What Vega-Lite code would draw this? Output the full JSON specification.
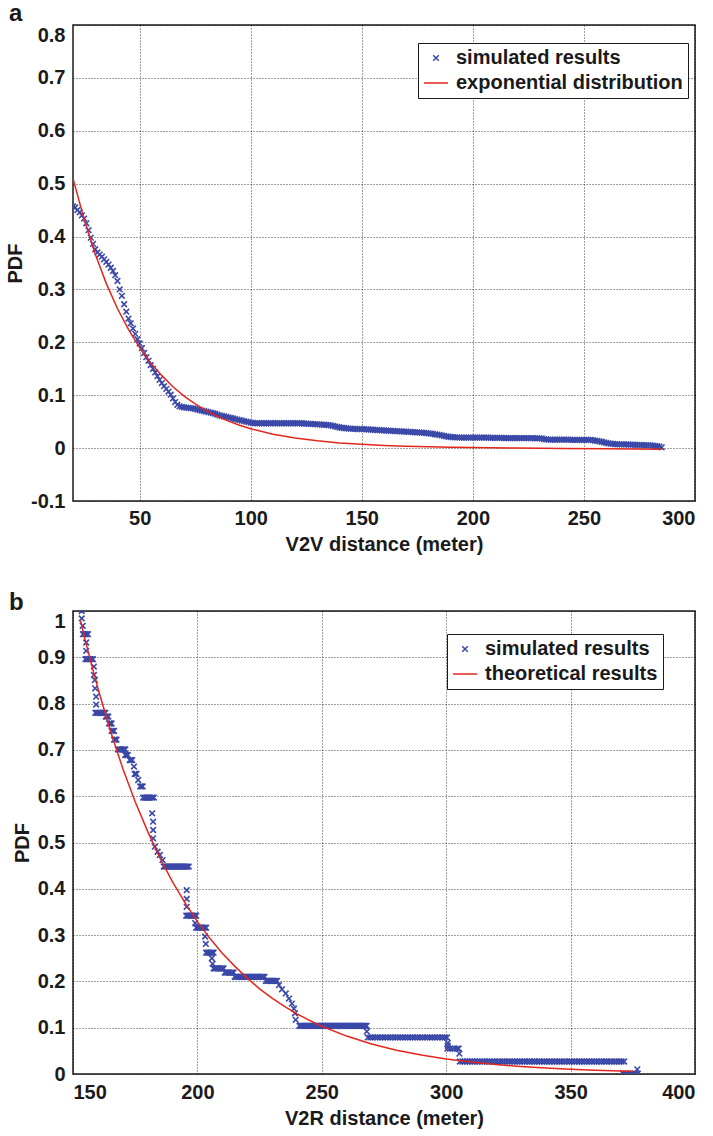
{
  "$schema": "https://vega.github.io/schema/vega-lite/v6.json",
  "background": "white",
  "padding": {"left": 4, "top": 1, "right": 2, "bottom": 2},
  "datasets": {
    "simA": [
      {"x":20,"y":0.457},{"x":21,"y":0.455},{"x":22,"y":0.45},{"x":23,"y":0.446},{"x":24,"y":0.44},{"x":25,"y":0.434},{"x":26,"y":0.425},{"x":27,"y":0.412},{"x":28,"y":0.398},{"x":29,"y":0.386},
      {"x":30,"y":0.376},{"x":31,"y":0.37},{"x":32,"y":0.366},{"x":33,"y":0.362},{"x":34,"y":0.357},{"x":35,"y":0.352},{"x":36,"y":0.347},{"x":37,"y":0.341},{"x":38,"y":0.335},{"x":39,"y":0.327},
      {"x":40,"y":0.316},{"x":41,"y":0.3},{"x":42,"y":0.288},{"x":43,"y":0.272},{"x":44,"y":0.258},{"x":45,"y":0.245},{"x":46,"y":0.236},{"x":47,"y":0.226},{"x":48,"y":0.216},{"x":49,"y":0.206},
      {"x":50,"y":0.198},{"x":51,"y":0.189},{"x":52,"y":0.18},{"x":53,"y":0.172},{"x":54,"y":0.165},{"x":55,"y":0.157},{"x":56,"y":0.15},{"x":57,"y":0.143},{"x":58,"y":0.136},{"x":59,"y":0.129},
      {"x":60,"y":0.123},{"x":61,"y":0.117},{"x":62,"y":0.112},{"x":63,"y":0.107},{"x":64,"y":0.101},{"x":65,"y":0.094},{"x":66,"y":0.087},{"x":67,"y":0.082},{"x":68,"y":0.079},{"x":69,"y":0.078},
      {"x":70,"y":0.077},{"x":71,"y":0.0765},{"x":72,"y":0.076},{"x":73,"y":0.0755},{"x":74,"y":0.075},{"x":75,"y":0.074},{"x":76,"y":0.073},{"x":77,"y":0.072},{"x":78,"y":0.071},{"x":79,"y":0.07},
      {"x":80,"y":0.069},{"x":81,"y":0.068},{"x":82,"y":0.067},{"x":83,"y":0.066},{"x":84,"y":0.065},{"x":85,"y":0.0635},{"x":86,"y":0.062},{"x":87,"y":0.061},{"x":88,"y":0.06},{"x":89,"y":0.059},
      {"x":90,"y":0.058},{"x":91,"y":0.057},{"x":92,"y":0.056},{"x":93,"y":0.055},{"x":94,"y":0.054},{"x":95,"y":0.053},{"x":96,"y":0.052},{"x":97,"y":0.051},{"x":98,"y":0.05},{"x":99,"y":0.049},
      {"x":100,"y":0.048},{"x":101,"y":0.0475},{"x":102,"y":0.047},{"x":103,"y":0.047},{"x":104,"y":0.047},{"x":105,"y":0.047},{"x":106,"y":0.047},{"x":107,"y":0.047},{"x":108,"y":0.047},{"x":109,"y":0.047},
      {"x":110,"y":0.047},{"x":111,"y":0.047},{"x":112,"y":0.047},{"x":113,"y":0.047},{"x":114,"y":0.047},{"x":115,"y":0.047},{"x":116,"y":0.047},{"x":117,"y":0.047},{"x":118,"y":0.047},{"x":119,"y":0.047},
      {"x":120,"y":0.047},{"x":121,"y":0.047},{"x":122,"y":0.047},{"x":123,"y":0.047},{"x":124,"y":0.0465},{"x":125,"y":0.0462},{"x":126,"y":0.046},{"x":127,"y":0.0458},{"x":128,"y":0.0455},{"x":129,"y":0.0452},
      {"x":130,"y":0.045},{"x":131,"y":0.0447},{"x":132,"y":0.0445},{"x":133,"y":0.0442},{"x":134,"y":0.044},{"x":135,"y":0.0435},{"x":136,"y":0.043},{"x":137,"y":0.042},{"x":138,"y":0.041},{"x":139,"y":0.04},
      {"x":140,"y":0.039},{"x":141,"y":0.0385},{"x":142,"y":0.038},{"x":143,"y":0.0375},{"x":144,"y":0.037},{"x":145,"y":0.0367},{"x":146,"y":0.0365},{"x":147,"y":0.0362},{"x":148,"y":0.036},{"x":149,"y":0.036},
      {"x":150,"y":0.036},{"x":151,"y":0.0357},{"x":152,"y":0.0355},{"x":153,"y":0.0352},{"x":154,"y":0.035},{"x":155,"y":0.0347},{"x":156,"y":0.0345},{"x":157,"y":0.0342},{"x":158,"y":0.034},{"x":159,"y":0.0337},
      {"x":160,"y":0.0335},{"x":161,"y":0.0332},{"x":162,"y":0.033},{"x":163,"y":0.0327},{"x":164,"y":0.0325},{"x":165,"y":0.0322},{"x":166,"y":0.032},{"x":167,"y":0.0317},{"x":168,"y":0.0315},{"x":169,"y":0.0312},
      {"x":170,"y":0.031},{"x":171,"y":0.0307},{"x":172,"y":0.0305},{"x":173,"y":0.0302},{"x":174,"y":0.03},{"x":175,"y":0.0297},{"x":176,"y":0.0295},{"x":177,"y":0.0292},{"x":178,"y":0.029},{"x":179,"y":0.0285},
      {"x":180,"y":0.028},{"x":181,"y":0.0275},{"x":182,"y":0.027},{"x":183,"y":0.026},{"x":184,"y":0.0255},{"x":185,"y":0.025},{"x":186,"y":0.024},{"x":187,"y":0.023},{"x":188,"y":0.022},{"x":189,"y":0.0215},
      {"x":190,"y":0.021},{"x":191,"y":0.0207},{"x":192,"y":0.0205},{"x":193,"y":0.0202},{"x":194,"y":0.02},{"x":195,"y":0.02},{"x":196,"y":0.02},{"x":197,"y":0.02},{"x":198,"y":0.02},{"x":199,"y":0.02},
      {"x":200,"y":0.02},{"x":201,"y":0.02},{"x":202,"y":0.02},{"x":203,"y":0.02},{"x":204,"y":0.02},{"x":205,"y":0.02},{"x":206,"y":0.02},{"x":207,"y":0.02},{"x":208,"y":0.0195},{"x":209,"y":0.0195},
      {"x":210,"y":0.0195},{"x":211,"y":0.0195},{"x":212,"y":0.0195},{"x":213,"y":0.0195},{"x":214,"y":0.019},{"x":215,"y":0.019},{"x":216,"y":0.019},{"x":217,"y":0.019},{"x":218,"y":0.019},{"x":219,"y":0.019},
      {"x":220,"y":0.019},{"x":221,"y":0.019},{"x":222,"y":0.019},{"x":223,"y":0.019},{"x":224,"y":0.019},{"x":225,"y":0.019},{"x":226,"y":0.019},{"x":227,"y":0.019},{"x":228,"y":0.0185},{"x":229,"y":0.0185},
      {"x":230,"y":0.0185},{"x":231,"y":0.0185},{"x":232,"y":0.017},{"x":233,"y":0.0165},{"x":234,"y":0.016},{"x":235,"y":0.016},{"x":236,"y":0.016},{"x":237,"y":0.016},{"x":238,"y":0.016},{"x":239,"y":0.016},
      {"x":240,"y":0.016},{"x":241,"y":0.016},{"x":242,"y":0.016},{"x":243,"y":0.016},{"x":244,"y":0.0155},{"x":245,"y":0.0155},{"x":246,"y":0.0155},{"x":247,"y":0.0155},{"x":248,"y":0.0155},{"x":249,"y":0.0155},
      {"x":250,"y":0.0155},{"x":251,"y":0.0155},{"x":252,"y":0.0155},{"x":253,"y":0.0155},{"x":254,"y":0.015},{"x":255,"y":0.014},{"x":256,"y":0.0135},{"x":257,"y":0.0128},{"x":258,"y":0.012},{"x":259,"y":0.011},
      {"x":260,"y":0.01},{"x":261,"y":0.009},{"x":262,"y":0.0085},{"x":263,"y":0.008},{"x":264,"y":0.0075},{"x":265,"y":0.0073},{"x":266,"y":0.0072},{"x":267,"y":0.0071},{"x":268,"y":0.007},{"x":269,"y":0.0069},
      {"x":270,"y":0.0068},{"x":271,"y":0.0066},{"x":272,"y":0.0065},{"x":273,"y":0.0062},{"x":274,"y":0.006},{"x":275,"y":0.0059},{"x":276,"y":0.0058},{"x":277,"y":0.0056},{"x":278,"y":0.0055},{"x":279,"y":0.0052},
      {"x":280,"y":0.005},{"x":281,"y":0.0045},{"x":282,"y":0.004},{"x":283,"y":0.0035},{"x":284,"y":0.003},{"x":285,"y":0.0015}
    ],
    "expA": [
      {"x":20,"y":0.51},{"x":25,"y":0.433},{"x":30,"y":0.367},{"x":35,"y":0.311},{"x":40,"y":0.264},{"x":45,"y":0.224},{"x":50,"y":0.19},{"x":55,"y":0.161},{"x":60,"y":0.137},{"x":65,"y":0.116},
      {"x":70,"y":0.0984},{"x":75,"y":0.0835},{"x":80,"y":0.0708},{"x":85,"y":0.0601},{"x":90,"y":0.051},{"x":95,"y":0.0433},{"x":100,"y":0.0367},{"x":110,"y":0.0264},{"x":120,"y":0.019},{"x":130,"y":0.0137},
      {"x":140,"y":0.0098},{"x":150,"y":0.0071},{"x":160,"y":0.0051},{"x":170,"y":0.0037},{"x":180,"y":0.0026},{"x":190,"y":0.0015},{"x":200,"y":0.001},{"x":220,"y":0},{"x":240,"y":-0.0005},{"x":260,"y":-0.001},{"x":285,"y":-0.002}
    ],
    "simB": [
      {"x":153.5,"y":1},{"x":153.5,"y":0.984},{"x":153.9,"y":0.968},
      {"x":154,"y":0.95},{"x":154.5,"y":0.95},{"x":155,"y":0.95},{"x":155.5,"y":0.95},{"x":156,"y":0.95},
      {"x":155.3,"y":0.932},{"x":155.3,"y":0.914},
      {"x":155,"y":0.896},{"x":155.5,"y":0.896},{"x":156,"y":0.896},{"x":156.5,"y":0.896},{"x":157,"y":0.896},{"x":157.5,"y":0.896},{"x":158,"y":0.896},
      {"x":158.4,"y":0.88},{"x":158.4,"y":0.862},{"x":158.8,"y":0.851},{"x":158.9,"y":0.833},{"x":159.3,"y":0.815},{"x":159.3,"y":0.798},
      {"x":159,"y":0.78},{"x":159.5,"y":0.78},{"x":160,"y":0.78},{"x":160.5,"y":0.78},{"x":161,"y":0.78},{"x":161.5,"y":0.78},{"x":162,"y":0.78},{"x":162.5,"y":0.78},{"x":163,"y":0.78},
      {"x":163.2,"y":0.772},{"x":163.7,"y":0.772},{"x":164.2,"y":0.772},{"x":164.5,"y":0.757},{"x":165,"y":0.757},{"x":165.5,"y":0.757},{"x":165.5,"y":0.741},{"x":166,"y":0.741},{"x":166.5,"y":0.741},{"x":166.5,"y":0.722},{"x":167,"y":0.722},{"x":167.5,"y":0.722},
      {"x":168,"y":0.701},{"x":168.5,"y":0.701},{"x":169,"y":0.701},{"x":169.5,"y":0.701},{"x":170,"y":0.701},{"x":170.5,"y":0.701},{"x":171,"y":0.701},
      {"x":171,"y":0.689},{"x":171.5,"y":0.689},{"x":172,"y":0.689},{"x":172.8,"y":0.678},{"x":173.3,"y":0.678},{"x":173.8,"y":0.678},{"x":174.5,"y":0.664},{"x":174.8,"y":0.648},{"x":175.2,"y":0.648},{"x":175.5,"y":0.648},{"x":176.2,"y":0.635},{"x":177,"y":0.621},{"x":177.5,"y":0.621},{"x":178,"y":0.621},
      {"x":178.2,"y":0.597},{"x":178.7,"y":0.597},{"x":179.2,"y":0.597},{"x":179.7,"y":0.597},{"x":180.2,"y":0.597},{"x":180.7,"y":0.597},{"x":181.2,"y":0.597},{"x":181.8,"y":0.597},{"x":182.5,"y":0.597},
      {"x":181.8,"y":0.563},{"x":182.2,"y":0.545},{"x":182.2,"y":0.527},{"x":182.2,"y":0.509},{"x":182.9,"y":0.491},{"x":184,"y":0.48},{"x":184.9,"y":0.473},{"x":186,"y":0.462},
      {"x":186.5,"y":0.448},{"x":187,"y":0.448},{"x":187.5,"y":0.448},{"x":188,"y":0.448},{"x":188.5,"y":0.448},{"x":189,"y":0.448},{"x":189.5,"y":0.448},{"x":190,"y":0.448},{"x":190.5,"y":0.448},{"x":191,"y":0.448},{"x":191.5,"y":0.448},
      {"x":192,"y":0.448},{"x":192.5,"y":0.448},{"x":193,"y":0.448},{"x":193.5,"y":0.448},{"x":194,"y":0.448},{"x":194.5,"y":0.448},{"x":195,"y":0.448},{"x":195.5,"y":0.448},{"x":196,"y":0.448},{"x":196.5,"y":0.448},
      {"x":195.7,"y":0.397},{"x":195.7,"y":0.378},{"x":195.7,"y":0.361},
      {"x":195.5,"y":0.342},{"x":196,"y":0.342},{"x":196.5,"y":0.342},{"x":197,"y":0.342},{"x":197.5,"y":0.342},{"x":198,"y":0.342},{"x":198.5,"y":0.342},{"x":199,"y":0.342},{"x":199.5,"y":0.342},
      {"x":199.1,"y":0.326},
      {"x":199.5,"y":0.316},{"x":200,"y":0.316},{"x":200.5,"y":0.316},{"x":201,"y":0.316},{"x":201.5,"y":0.316},{"x":202,"y":0.316},{"x":202.5,"y":0.316},{"x":203,"y":0.316},{"x":203.5,"y":0.316},
      {"x":203.1,"y":0.297},{"x":203.4,"y":0.281},
      {"x":203.5,"y":0.262},{"x":204,"y":0.262},{"x":204.5,"y":0.262},{"x":205,"y":0.262},{"x":205.5,"y":0.262},{"x":206,"y":0.262},{"x":206.5,"y":0.262},
      {"x":205.8,"y":0.25},{"x":206.1,"y":0.238},
      {"x":206.5,"y":0.228},{"x":207,"y":0.228},{"x":207.5,"y":0.228},{"x":208,"y":0.228},{"x":208.5,"y":0.228},{"x":209,"y":0.228},{"x":209.5,"y":0.228},{"x":210,"y":0.228},{"x":210.5,"y":0.228},
      {"x":211,"y":0.219},{"x":211.5,"y":0.219},{"x":212,"y":0.219},{"x":212.5,"y":0.219},{"x":213,"y":0.219},{"x":213.5,"y":0.219},{"x":214,"y":0.219},{"x":214.5,"y":0.219},
      {"x":215,"y":0.21},{"x":215.5,"y":0.21},{"x":216,"y":0.21},{"x":216.5,"y":0.21},{"x":217,"y":0.21},{"x":217.5,"y":0.21},{"x":218,"y":0.21},{"x":218.5,"y":0.21},{"x":219,"y":0.21},{"x":219.5,"y":0.21},
      {"x":220,"y":0.21},{"x":220.5,"y":0.21},{"x":221,"y":0.21},{"x":221.5,"y":0.21},{"x":222,"y":0.21},{"x":222.5,"y":0.21},{"x":223,"y":0.21},{"x":223.5,"y":0.21},{"x":224,"y":0.21},{"x":224.5,"y":0.21},
      {"x":225,"y":0.21},{"x":225.5,"y":0.21},{"x":226,"y":0.21},{"x":226.5,"y":0.21},{"x":227,"y":0.21},
      {"x":227.5,"y":0.201},{"x":228,"y":0.201},{"x":228.5,"y":0.201},{"x":229,"y":0.201},{"x":229.5,"y":0.201},{"x":230,"y":0.201},{"x":230.5,"y":0.201},{"x":231,"y":0.201},{"x":231.5,"y":0.201},{"x":232,"y":0.201},
      {"x":232.8,"y":0.192},{"x":234,"y":0.183},{"x":235.5,"y":0.174},{"x":236.8,"y":0.163},{"x":238,"y":0.152},{"x":238.8,"y":0.141},{"x":239.2,"y":0.131},{"x":239.5,"y":0.117},
      {"x":241,"y":0.104},{"x":241.5,"y":0.104},{"x":242,"y":0.104},{"x":242.5,"y":0.104},{"x":243,"y":0.104},{"x":243.5,"y":0.104},{"x":244,"y":0.104},{"x":244.5,"y":0.104},{"x":245,"y":0.104},{"x":245.5,"y":0.104},
      {"x":246,"y":0.104},{"x":246.5,"y":0.104},{"x":247,"y":0.104},{"x":247.5,"y":0.104},{"x":248,"y":0.104},{"x":248.5,"y":0.104},{"x":249,"y":0.104},{"x":249.5,"y":0.104},{"x":250,"y":0.104},{"x":250.5,"y":0.104},
      {"x":251,"y":0.104},{"x":251.5,"y":0.104},{"x":252,"y":0.104},{"x":252.5,"y":0.104},{"x":253,"y":0.104},{"x":253.5,"y":0.104},{"x":254,"y":0.104},{"x":254.5,"y":0.104},{"x":255,"y":0.104},{"x":255.5,"y":0.104},
      {"x":256,"y":0.104},{"x":256.5,"y":0.104},{"x":257,"y":0.104},{"x":257.5,"y":0.104},{"x":258,"y":0.104},{"x":258.5,"y":0.104},{"x":259,"y":0.104},{"x":259.5,"y":0.104},{"x":260,"y":0.104},{"x":260.5,"y":0.104},
      {"x":261,"y":0.104},{"x":261.5,"y":0.104},{"x":262,"y":0.104},{"x":262.5,"y":0.104},{"x":263,"y":0.104},{"x":263.5,"y":0.104},{"x":264,"y":0.104},{"x":264.5,"y":0.104},{"x":265,"y":0.104},{"x":265.5,"y":0.104},
      {"x":266,"y":0.104},{"x":266.5,"y":0.104},{"x":267,"y":0.104},{"x":267.5,"y":0.104},{"x":268,"y":0.104},
      {"x":268.1,"y":0.092},
      {"x":268.5,"y":0.079},{"x":269.5,"y":0.079},{"x":270.5,"y":0.079},{"x":271.5,"y":0.079},{"x":272.5,"y":0.079},{"x":273.5,"y":0.079},{"x":274.5,"y":0.079},{"x":275.5,"y":0.079},{"x":276.5,"y":0.079},{"x":277.5,"y":0.079},
      {"x":278.5,"y":0.079},{"x":279.5,"y":0.079},{"x":280.5,"y":0.079},{"x":281.5,"y":0.079},{"x":282.5,"y":0.079},{"x":283.5,"y":0.079},{"x":284.5,"y":0.079},{"x":285.5,"y":0.079},{"x":286.5,"y":0.079},{"x":287.5,"y":0.079},
      {"x":288.5,"y":0.079},{"x":289.5,"y":0.079},{"x":290.5,"y":0.079},{"x":291.5,"y":0.079},{"x":292.5,"y":0.079},{"x":293.5,"y":0.079},{"x":294.5,"y":0.079},{"x":295.5,"y":0.079},{"x":296.5,"y":0.079},{"x":297.5,"y":0.079},
      {"x":298.5,"y":0.079},{"x":299.5,"y":0.079},{"x":300.3,"y":0.079},
      {"x":300.6,"y":0.067},{"x":300.6,"y":0.061},
      {"x":300.5,"y":0.055},{"x":301.5,"y":0.055},{"x":302.5,"y":0.055},{"x":303.5,"y":0.055},{"x":304.5,"y":0.055},{"x":305,"y":0.055},
      {"x":305.3,"y":0.044},
      {"x":305.5,"y":0.027},{"x":306.5,"y":0.027},{"x":307.5,"y":0.027},{"x":308.5,"y":0.027},{"x":309.5,"y":0.027},{"x":310.5,"y":0.027},{"x":311.5,"y":0.027},{"x":312.5,"y":0.027},{"x":313.5,"y":0.027},{"x":314.5,"y":0.027},
      {"x":315.5,"y":0.027},{"x":316.5,"y":0.027},{"x":317.5,"y":0.027},{"x":318.5,"y":0.027},{"x":319.5,"y":0.027},{"x":320.5,"y":0.027},{"x":321.5,"y":0.027},{"x":322.5,"y":0.027},{"x":323.5,"y":0.027},{"x":324.5,"y":0.027},
      {"x":325.5,"y":0.027},{"x":326.5,"y":0.027},{"x":327.5,"y":0.027},{"x":328.5,"y":0.027},{"x":329.5,"y":0.027},{"x":330.5,"y":0.027},{"x":331.5,"y":0.027},{"x":332.5,"y":0.027},{"x":333.5,"y":0.027},{"x":334.5,"y":0.027},
      {"x":335.5,"y":0.027},{"x":336.5,"y":0.027},{"x":337.5,"y":0.027},{"x":338.5,"y":0.027},{"x":339.5,"y":0.027},{"x":340.5,"y":0.027},{"x":341.5,"y":0.027},{"x":342.5,"y":0.027},{"x":343.5,"y":0.027},{"x":344.5,"y":0.027},
      {"x":345.5,"y":0.027},{"x":346.5,"y":0.027},{"x":347.5,"y":0.027},{"x":348.5,"y":0.027},{"x":349.5,"y":0.027},{"x":350.5,"y":0.027},{"x":351.5,"y":0.027},{"x":352.5,"y":0.027},{"x":353.5,"y":0.027},{"x":354.5,"y":0.027},
      {"x":355.5,"y":0.027},{"x":356.5,"y":0.027},{"x":357.5,"y":0.027},{"x":358.5,"y":0.027},{"x":359.5,"y":0.027},{"x":360.5,"y":0.027},{"x":361.5,"y":0.027},{"x":362.5,"y":0.027},{"x":363.5,"y":0.027},{"x":364.5,"y":0.027},
      {"x":365.5,"y":0.027},{"x":366.5,"y":0.027},{"x":367.5,"y":0.027},{"x":368.5,"y":0.027},{"x":369.5,"y":0.027},{"x":370.5,"y":0.027},{"x":371.5,"y":0.027},
      {"x":371,"y":0.001},{"x":372,"y":0.001},{"x":373,"y":0.001},{"x":374,"y":0.001},{"x":375,"y":0.001},{"x":376,"y":0.001},{"x":377,"y":0.001},{"x":376.8,"y":0.01}
    ],
    "expB": [
      {"x":153,"y":0.98},{"x":155,"y":0.935},{"x":160,"y":0.833},{"x":165,"y":0.742},{"x":170,"y":0.66},{"x":175,"y":0.588},{"x":180,"y":0.524},{"x":185,"y":0.466},{"x":190,"y":0.415},{"x":195,"y":0.37},
      {"x":200,"y":0.329},{"x":205,"y":0.293},{"x":210,"y":0.261},{"x":215,"y":0.233},{"x":220,"y":0.207},{"x":225,"y":0.184},{"x":230,"y":0.164},{"x":235,"y":0.146},{"x":240,"y":0.13},{"x":245,"y":0.116},
      {"x":250,"y":0.103},{"x":260,"y":0.0819},{"x":270,"y":0.0649},{"x":280,"y":0.0515},{"x":290,"y":0.0408},{"x":300,"y":0.0324},{"x":310,"y":0.0257},{"x":320,"y":0.0203},{"x":330,"y":0.0161},{"x":340,"y":0.0128},
      {"x":350,"y":0.0101},{"x":360,"y":0.008},{"x":370,"y":0.0064},{"x":375,"y":0.0057}
    ]
  },
  "vconcat": [
    {
      "width": 622,
      "height": 476,
      "title": {"text": "a", "anchor": "start", "frame": "group", "dx": -64, "offset": -20, "baseline": "alphabetic"},
      "layer": [
        {
          "data": {"name": "simA"},
          "transform": [{"calculate": "'simulated results'", "as": "series"}],
          "mark": {"type": "point", "filled": false, "strokeWidth": 1.6, "opacity": 1, "clip": true},
          "encoding": {
            "x": {"field": "x", "type": "quantitative", "scale": {"domain": [20, 300], "nice": false, "zero": false},
                  "axis": {"values": [50, 100, 150, 200, 250, 300], "title": "V2V distance (meter)", "labelPadding": 7, "titlePadding": 6}},
            "y": {"field": "y", "type": "quantitative", "scale": {"domain": [-0.1, 0.8], "nice": false, "zero": false},
                  "axis": {"values": [-0.1, 0, 0.1, 0.2, 0.3, 0.4, 0.5, 0.6, 0.7, 0.8], "title": "PDF", "titlePadding": 5,
                           "labelExpr": "toString(round(datum.value*10)/10)",
                           "labelBaseline": {"condition": {"test": "datum.value > 0.79", "value": "top"}, "value": "middle"}}},
            "color": {"field": "series", "type": "nominal", "scale": {"domain": ["simulated results", "exponential distribution"], "range": ["#3a48a8", "#e3261c"]}, "legend": {"legendX": 345, "legendY": 18, "title": null}},
            "shape": {"field": "series", "type": "nominal", "scale": {"domain": ["simulated results", "exponential distribution"], "range": ["M-1,-1L1,1M-1,1L1,-1", "stroke"]}, "legend": {"legendX": 345, "legendY": 18, "title": null}},
            "size": {"field": "series", "type": "nominal", "scale": {"domain": ["simulated results", "exponential distribution"], "range": [32, 576]}, "legend": {"legendX": 345, "legendY": 18, "title": null}}
          }
        },
        {
          "data": {"name": "expA"},
          "transform": [{"calculate": "'exponential distribution'", "as": "series"}],
          "mark": {"type": "line", "strokeWidth": 1.5, "clip": true},
          "encoding": {
            "x": {"field": "x", "type": "quantitative"},
            "y": {"field": "y", "type": "quantitative"},
            "color": {"field": "series", "type": "nominal", "legend": {"legendX": 345, "legendY": 18, "title": null}}
          }
        }
      ]
    },
    {
      "width": 622,
      "height": 463,
      "title": {"text": "b", "anchor": "start", "frame": "group", "dx": -64, "offset": -23, "baseline": "alphabetic"},
      "layer": [
        {
          "data": {"name": "simB"},
          "transform": [{"calculate": "'simulated results'", "as": "series"}],
          "mark": {"type": "point", "filled": false, "strokeWidth": 1.6, "opacity": 1, "clip": true},
          "encoding": {
            "x": {"field": "x", "type": "quantitative", "scale": {"domain": [150, 400], "nice": false, "zero": false},
                  "axis": {"values": [150, 200, 250, 300, 350, 400], "title": "V2R distance (meter)", "labelPadding": 8, "titlePadding": 6}},
            "y": {"field": "y", "type": "quantitative", "scale": {"domain": [0, 1], "nice": false, "zero": false},
                  "axis": {"values": [0, 0.1, 0.2, 0.3, 0.4, 0.5, 0.6, 0.7, 0.8, 0.9, 1], "title": "PDF", "titlePadding": 5,
                           "labelExpr": "toString(round(datum.value*10)/10)",
                           "labelBaseline": {"condition": {"test": "datum.value > 0.99", "value": "top"}, "value": "middle"}}},
            "color": {"field": "series", "type": "nominal", "scale": {"domain": ["simulated results", "theoretical results"], "range": ["#3a48a8", "#e3261c"]}, "legend": {"legendX": 374, "legendY": 23, "title": null}},
            "shape": {"field": "series", "type": "nominal", "scale": {"domain": ["simulated results", "theoretical results"], "range": ["M-1,-1L1,1M-1,1L1,-1", "stroke"]}, "legend": {"legendX": 374, "legendY": 23, "title": null}},
            "size": {"field": "series", "type": "nominal", "scale": {"domain": ["simulated results", "theoretical results"], "range": [32, 576]}, "legend": {"legendX": 374, "legendY": 23, "title": null}}
          }
        },
        {
          "data": {"name": "expB"},
          "transform": [{"calculate": "'theoretical results'", "as": "series"}],
          "mark": {"type": "line", "strokeWidth": 1.5, "clip": true},
          "encoding": {
            "x": {"field": "x", "type": "quantitative"},
            "y": {"field": "y", "type": "quantitative"},
            "color": {"field": "series", "type": "nominal", "legend": {"legendX": 374, "legendY": 23, "title": null}}
          }
        }
      ]
    }
  ],
  "spacing": 110,
  "bounds": "flush",
  "resolve": {"scale": {"color": "independent", "shape": "independent", "size": "independent", "x": "independent", "y": "independent"}, "legend": {"color": "independent", "shape": "independent", "size": "independent"}},
  "config": {
    "font": "Liberation Sans",
    "view": {"stroke": "#1a1a1a", "strokeWidth": 1.5},
    "axis": {
      "labelFont": "Liberation Sans", "labelFontSize": 20, "labelFontWeight": "bold", "labelColor": "#1a1a1a",
      "titleFont": "Liberation Sans", "titleFontSize": 20, "titleFontWeight": "bold", "titleColor": "#1a1a1a",
      "domain": false, "ticks": false, "grid": true, "gridColor": "#000000", "gridDash": [1, 2], "gridOpacity": 0.75, "gridWidth": 1,
      "labelPadding": 8, "titlePadding": 10
    },
    "legend": {
      "orient": "none", "labelFont": "Liberation Sans", "labelFontSize": 20, "labelFontWeight": "bold", "labelColor": "#1a1a1a",
      "strokeColor": "#1a1a1a", "fillColor": "white", "padding": 5, "labelOffset": 7, "symbolStrokeWidth": 1.5, "rowPadding": 2, "labelLimit": 400
    },
    "title": {"font": "Liberation Sans", "fontSize": 24, "fontWeight": "bold", "color": "#1a1a1a"}
  }
}
